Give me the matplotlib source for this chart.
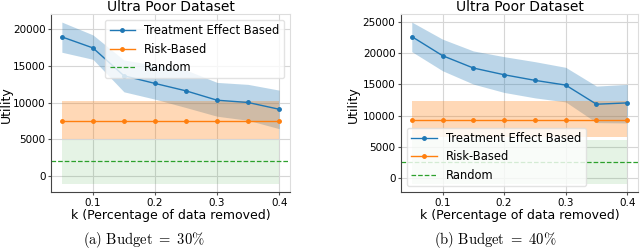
import matplotlib
matplotlib.use("Agg")
import matplotlib.pyplot as plt
import numpy as np

plt.rcParams['mathtext.fontset'] = 'cm'

k = [0.05, 0.10, 0.15, 0.20, 0.25, 0.30, 0.35, 0.40]
xticks = [0.1, 0.2, 0.3, 0.4]

# Budget = 30%
te30 = [18950, 17450, 13660, 12620, 11610, 10340, 10030, 9110]
te30_hi = [20960, 19220, 15800, 15120, 14440, 12760, 12490, 11710]
te30_lo = [16860, 15900, 11480, 10480, 9340, 8160, 7610, 6470]
risk30 = 7550
risk30_hi = 10200
risk30_lo = 5000
rand30 = 2100
rand30_hi = 4880
rand30_lo = -1040

# Budget = 40%
te40 = [22680, 19610, 17630, 16550, 15650, 14890, 11820, 12030]
te40_hi = [25000, 22260, 20370, 19450, 18650, 17740, 14730, 15000]
te40_lo = [20260, 17190, 15050, 13710, 12840, 12190, 8870, 8810]
risk40 = 9350
risk40_hi = 12300
risk40_lo = 6550
rand40 = 2520
rand40_hi = 6020
rand40_lo = -970

W, H = 640, 248
fig = plt.figure(figsize=(W / 100, H / 100), dpi=100)

blue = '#1f77b4'
orange = '#ff7f0e'
green = '#2ca02c'


def panel(ax, te, te_hi, te_lo, risk, risk_hi, risk_lo, rnd, rnd_hi, rnd_lo, legloc, ylab_x):
    n = len(k)
    ax.grid(True, color='#d6d6d6', linewidth=0.8)
    ax.set_axisbelow(True)
    ax.plot(k, te, color=blue, marker='o', markersize=2.5, linewidth=1.0, label='Treatment Effect Based')
    ax.fill_between(k, te_lo, te_hi, color=blue, alpha=0.3, linewidth=0)
    ax.plot(k, [risk] * n, color=orange, marker='o', markersize=2.5, linewidth=1.0, label='Risk-Based')
    ax.fill_between(k, [risk_lo] * n, [risk_hi] * n, color=orange, alpha=0.3, linewidth=0)
    ax.axhline(rnd, color=green, linestyle='--', linewidth=0.9, label='Random')
    ax.fill_between(k, [rnd_lo] * n, [rnd_hi] * n, color=green, alpha=0.12, linewidth=0)
    ax.set_xticks(xticks)
    ax.set_xticklabels([f'{t:.1f}' for t in xticks])
    ax.tick_params(labelsize=7.5, length=2, color='#555555', pad=2)
    ax.set_title('Ultra Poor Dataset', fontsize=10, pad=1.5)
    ax.set_xlabel('k (Percentage of data removed)', fontsize=9, labelpad=1)
    ax.set_ylabel('Utility', fontsize=9)
    ax.yaxis.set_label_coords(ylab_x, 0.49)
    for s in ['top', 'right']:
        ax.spines[s].set_color('#dddddd')
    for s in ['left', 'bottom']:
        ax.spines[s].set_color('#444444')
    ax.legend(loc=legloc, fontsize=8.3, framealpha=0.8, edgecolor='#dddddd',
              handlelength=2.2, borderpad=0.4, labelspacing=0.45)


ax1 = fig.add_axes([51 / W, 56 / H, 239 / W, 178 / H])
panel(ax1, te30, te30_hi, te30_lo, risk30, risk30_hi, risk30_lo, rand30, rand30_hi, rand30_lo,
      'upper right', -0.160)
ax2 = fig.add_axes([401 / W, 56 / H, 237 / W, 178 / H])
panel(ax2, te40, te40_hi, te40_lo, risk40, risk40_hi, risk40_lo, rand40, rand40_hi, rand40_lo,
      'lower left', -0.175)

fig.text(144 / W, 1 - 239.5 / H, r'$\mathrm{(a)\ Budget\ =\ 30\%}$', ha='center', va='center',
         fontsize=10.5)
fig.text(495 / W, 1 - 239.5 / H, r'$\mathrm{(b)\ Budget\ =\ 40\%}$', ha='center', va='center',
         fontsize=10.5)

fig.savefig('out.png', dpi=100)
